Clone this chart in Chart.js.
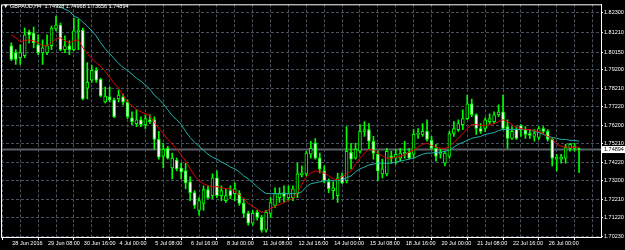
<!DOCTYPE html>
<html><head><meta charset="utf-8">
<script src="https://cdn.jsdelivr.net/npm/chart.js@4.4.0/dist/chart.umd.min.js"></script>
<style>html,body{margin:0;padding:0;background:#000;overflow:hidden}canvas{display:block}</style>
</head><body>
<canvas id="c" width="625" height="250"></canvas>
<script>
const symbolTitle = 'GBPAUD,H4';
const dateLabels = ['28 Jun 2016','29 Jun 08:00','30 Jun 16:00','4 Jul 00:00','5 Jul 08:00','6 Jul 16:00','8 Jul 00:00','11 Jul 08:00','12 Jul 16:00','14 Jul 00:00','15 Jul 08:00','18 Jul 16:00','20 Jul 00:00','21 Jul 08:00','22 Jul 16:00','26 Jul 00:00'];
const priceTicks = [1.82300,1.81210,1.80150,1.79200,1.78210,1.77220,1.76200,1.75210,1.74220,1.73200,1.72210,1.71220,1.70230];

const opens = [1.8049,1.8012,1.7985,1.7996,1.8124,1.8118,1.8054,1.8012,1.8012,1.8049,
1.8140,1.8161,1.8028,1.8049,1.8028,1.8124,1.8134,1.7821,1.7863,1.7916,
1.7868,1.7746,1.7773,1.7757,1.7762,1.7773,1.7746,1.7661,1.7629,1.7650,
1.7624,1.7650,1.7650,1.7544,1.7454,1.7496,1.7390,1.7432,1.7390,1.7374,
1.7315,1.7257,1.7161,1.7199,1.7273,1.7241,1.7337,1.7241,1.7214,1.7268,
1.7252,1.7252,1.7199,1.7145,1.7092,1.7151,1.7124,1.7055,1.7145,1.7188,
1.7230,1.7257,1.7230,1.7230,1.7252,1.7353,1.7358,1.7464,1.7523,1.7443,
1.7374,1.7315,1.7268,1.7241,1.7347,1.7321,1.7475,1.7443,1.7480,1.7587,
1.7597,1.7534,1.7464,1.7358,1.7358,1.7454,1.7443,1.7443,1.7464,1.7475,
1.7464,1.7571,1.7571,1.7587,1.7539,1.7496,1.7464,1.7416,1.7454,1.7576,
1.7597,1.7624,1.7656,1.7736,1.7677,1.7603,1.7603,1.7640,1.7640,1.7677,
1.7693,1.7613,1.7549,1.7597,1.7619,1.7597,1.7576,1.7560,1.7555,1.7603,
1.7587,1.7544,1.7438,1.7438,1.7443,1.7496,1.7496,1.74928];
const highs = [1.8065,1.8028,1.8054,1.8145,1.8134,1.8150,1.8108,1.8081,1.8108,1.8155,
1.8209,1.8172,1.8102,1.8076,1.8198,1.8193,1.8145,1.7959,1.7943,1.7932,
1.7874,1.7826,1.7826,1.7767,1.7810,1.7789,1.7757,1.7693,1.7704,1.7666,
1.7677,1.7677,1.7666,1.7587,1.7523,1.7507,1.7470,1.7443,1.7416,1.7416,
1.7342,1.7268,1.7230,1.7294,1.7294,1.7358,1.7374,1.7294,1.7278,1.7294,
1.7310,1.7268,1.7225,1.7156,1.7161,1.7161,1.7135,1.7161,1.7230,1.7283,
1.7283,1.7294,1.7294,1.7294,1.7416,1.7401,1.7480,1.7534,1.7549,1.7470,
1.7401,1.7331,1.7315,1.7363,1.7363,1.7613,1.7523,1.7523,1.7624,1.7640,
1.7629,1.7560,1.7480,1.7438,1.7496,1.7480,1.7491,1.7496,1.7534,1.7496,
1.7597,1.7603,1.7629,1.7650,1.7560,1.7518,1.7491,1.7480,1.7587,1.7640,
1.7650,1.7704,1.7783,1.7762,1.7682,1.7629,1.7661,1.7682,1.7693,1.7730,
1.7783,1.7650,1.7613,1.7613,1.7624,1.7613,1.7597,1.7597,1.7613,1.7613,
1.7597,1.7549,1.7464,1.7464,1.7518,1.7523,1.7523,1.74968];
const lows = [1.7969,1.7948,1.7948,1.7985,1.8065,1.8038,1.8001,1.7948,1.8001,1.8028,
1.8129,1.8022,1.8012,1.8001,1.8022,1.8028,1.7757,1.7762,1.7852,1.7852,
1.7773,1.7741,1.7746,1.7661,1.7746,1.7730,1.7656,1.7624,1.7613,1.7613,
1.7603,1.7629,1.7491,1.7438,1.7390,1.7438,1.7331,1.7374,1.7331,1.7278,
1.7214,1.7172,1.7135,1.7161,1.7225,1.7225,1.7230,1.7214,1.7204,1.7225,
1.7214,1.7188,1.7124,1.7081,1.7081,1.7108,1.7044,1.7044,1.7124,1.7177,
1.7204,1.7204,1.7214,1.7214,1.7230,1.7342,1.7347,1.7443,1.7438,1.7363,
1.7310,1.7257,1.7225,1.7204,1.7305,1.7310,1.7385,1.7438,1.7470,1.7560,
1.7491,1.7438,1.7321,1.7337,1.7347,1.7416,1.7411,1.7427,1.7443,1.7438,
1.7443,1.7549,1.7560,1.7534,1.7491,1.7427,1.7443,1.7401,1.7443,1.7560,
1.7587,1.7597,1.7650,1.7666,1.7571,1.7576,1.7587,1.7629,1.7629,1.7666,
1.7597,1.7496,1.7544,1.7544,1.7560,1.7549,1.7549,1.7534,1.7544,1.7576,
1.7534,1.7401,1.7374,1.7416,1.7416,1.7480,1.7480,1.73656];
const closes = [1.7975,1.7975,1.8012,1.8108,1.8108,1.8065,1.8012,1.8038,1.8049,1.8145,
1.8161,1.8028,1.8049,1.8028,1.8129,1.8134,1.7762,1.7852,1.7916,1.7863,
1.7778,1.7778,1.7757,1.7666,1.7783,1.7746,1.7666,1.7640,1.7650,1.7624,
1.7656,1.7640,1.7544,1.7448,1.7491,1.7443,1.7443,1.7385,1.7369,1.7310,
1.7257,1.7188,1.7214,1.7273,1.7230,1.7337,1.7241,1.7268,1.7241,1.7241,
1.7278,1.7199,1.7145,1.7092,1.7145,1.7124,1.7055,1.7151,1.7204,1.7252,
1.7252,1.7236,1.7252,1.7278,1.7358,1.7363,1.7470,1.7496,1.7443,1.7385,
1.7321,1.7278,1.7283,1.7337,1.7310,1.7480,1.7438,1.7491,1.7587,1.7597,
1.7534,1.7470,1.7374,1.7385,1.7480,1.7443,1.7464,1.7470,1.7475,1.7443,
1.7571,1.7576,1.7587,1.7544,1.7496,1.7454,1.7475,1.7470,1.7576,1.7603,
1.7629,1.7656,1.7736,1.7677,1.7603,1.7587,1.7650,1.7656,1.7677,1.7693,
1.7603,1.7549,1.7587,1.7549,1.7597,1.7571,1.7565,1.7576,1.7603,1.7587,
1.7544,1.7443,1.7448,1.7448,1.7502,1.7518,1.7507,1.74894];
const maFast = [1.8108,1.8092,1.8071,1.8076,1.8081,1.8076,1.8065,1.8049,1.8049,1.8065,
1.8087,1.8092,1.8076,1.8065,1.8076,1.8081,1.8039,1.8007,1.7980,1.7959,
1.7938,1.7911,1.7879,1.7847,1.7821,1.7783,1.7746,1.7725,1.7704,1.7693,
1.7682,1.7672,1.7635,1.7603,1.7576,1.7544,1.7518,1.7491,1.7459,1.7427,
1.7385,1.7347,1.7321,1.7305,1.7294,1.7289,1.7289,1.7284,1.7278,1.7278,
1.7262,1.7246,1.7225,1.7199,1.7183,1.7167,1.7151,1.7156,1.7172,1.7183,
1.7193,1.7204,1.7215,1.7225,1.7257,1.7300,1.7342,1.7363,1.7374,1.7369,
1.7363,1.7347,1.7331,1.7326,1.7342,1.7358,1.7374,1.7411,1.7443,1.7470,
1.7491,1.7486,1.7470,1.7454,1.7443,1.7443,1.7448,1.7454,1.7459,1.7475,
1.7486,1.7502,1.7518,1.7523,1.7512,1.7502,1.7496,1.7496,1.7502,1.7528,
1.7550,1.7576,1.7603,1.7624,1.7624,1.7619,1.7619,1.7624,1.7629,1.7640,
1.7650,1.7640,1.7624,1.7608,1.7603,1.7597,1.7597,1.7592,1.7587,1.7576,
1.7560,1.7544,1.7518,1.7507,1.7502,1.7502,1.7502,1.7502];
const maSlow = [null,null,null,null,null,null,null,null,null,
1.8289,1.8273,1.8257,1.8246,1.8235,1.8209,1.8198,1.8177,1.8155,1.8129,1.8102,
1.8065,1.8033,1.8007,1.7980,1.7954,1.7932,1.7916,1.7895,1.7874,1.7858,
1.7837,1.7815,1.7783,1.7762,1.7736,1.7704,1.7672,1.7650,1.7624,1.7587,
1.7555,1.7528,1.7507,1.7486,1.7464,1.7448,1.7438,1.7422,1.7411,1.7395,
1.7385,1.7369,1.7347,1.7331,1.7310,1.7289,1.7268,1.7252,1.7252,1.7252,
1.7252,1.7252,1.7252,1.7252,1.7252,1.7262,1.7289,1.7305,1.7310,1.7315,
1.7321,1.7321,1.7321,1.7321,1.7326,1.7337,1.7347,1.7369,1.7385,1.7395,
1.7406,1.7411,1.7416,1.7416,1.7416,1.7416,1.7422,1.7427,1.7432,1.7438,
1.7443,1.7454,1.7464,1.7470,1.7470,1.7475,1.7475,1.7480,1.7486,1.7502,
1.7518,1.7528,1.7539,1.7550,1.7555,1.7560,1.7571,1.7576,1.7581,1.7592,
1.7597,1.7597,1.7597,1.7597,1.7597,1.7597,1.7597,1.7587,1.7581,1.7571,
1.7560,1.7555,1.7550,1.7544,1.7544,1.7539,1.7539,1.7534];

const last = opens.length - 1;
const lastPrice = closes[last];
const titleValues = [opens[last], highs[last], lows[last], closes[last]];

const FONT = {family: "'Liberation Sans', Arial, sans-serif", size: 5.5};
const FONT_CSS = FONT.size + 'px ' + FONT.family;
const GRID = '#48525e';
const LIME = '#00ff00';
const idx = opens.map((_, i) => i);
const bull = closes.map((c, i) => c >= opens[i]);
const gridIdx = [];
for (let v = 0; v <= 128; v += 4) gridIdx.push(v);

const overlay = {
  id: 'overlay',
  beforeDatasetsDraw(chart) {
    const {ctx, chartArea: a, scales: {y}} = chart;
    const py = y.getPixelForValue(lastPrice);
    ctx.save();
    ctx.strokeStyle = '#5a6068';
    ctx.lineWidth = 2;
    ctx.beginPath(); ctx.moveTo(a.left, py); ctx.lineTo(a.right, py); ctx.stroke();
    ctx.restore();
  },
  afterDraw(chart) {
    const {ctx, chartArea: a, scales: {x, y}} = chart;
    ctx.save();
    ctx.strokeStyle = '#ffffff'; ctx.lineWidth = 1;
    ctx.beginPath();
    ctx.moveTo(a.left + 0.5, a.bottom); ctx.lineTo(a.left + 0.5, a.top + 0.5); ctx.lineTo(a.right, a.top + 0.5);
    ctx.stroke();
    ctx.font = FONT_CSS;
    ctx.textBaseline = 'middle'; ctx.textAlign = 'left';
    // date labels on the x scale
    ctx.fillStyle = '#ffffff';
    dateLabels.forEach((lab, k) => {
      const px = x.getPixelForValue(k * 8);
      ctx.fillText(lab, px + 1, a.bottom + 6.5);
    });
    // current price box
    const py = y.getPixelForValue(lastPrice);
    ctx.fillStyle = '#ffffff';
    ctx.fillRect(a.right + 1, py - 3.5, 23, 7);
    ctx.fillStyle = '#000000';
    ctx.fillText(lastPrice.toFixed(5), a.right + 3, py);
    // title
    ctx.fillStyle = '#ffffff';
    ctx.fillText('\u25BC', 3, 6.5);
    ctx.fillText(symbolTitle + '  ' + titleValues.map(v => v.toFixed(5)).join(' '), 10, 6.5);
    ctx.restore();
  }
};

new Chart(document.getElementById('c'), {
  type: 'bar',
  data: {
    datasets: [
      {type: 'line', label: 'MA fast', data: idx.map(i => ({x: i, y: maFast[i]})), borderColor: '#e00000', borderWidth: 1, pointRadius: 0, tension: 0, order: 0},
      {type: 'line', label: 'MA slow', data: idx.map(i => ({x: i, y: maSlow[i]})), borderColor: '#20b2aa', borderWidth: 1, pointRadius: 0, tension: 0, order: 0},
      {label: 'body', data: idx.map(i => ({x: i, y: [opens[i], closes[i]]})), backgroundColor: bull.map(b => b ? '#000000' : '#ffffff'), borderColor: LIME, borderWidth: 1, borderSkipped: false, barThickness: 3, minBarLength: 1, grouped: false, order: 1},
      {label: 'wick', data: idx.map(i => ({x: i, y: [lows[i], highs[i]]})), backgroundColor: LIME, borderWidth: 0, barThickness: 1, grouped: false, order: 2}
    ]
  },
  options: {
    responsive: false, animation: false, devicePixelRatio: 1,
    layout: {padding: {left: 1, top: 1, right: 0, bottom: 0}},
    plugins: {legend: {display: false}, tooltip: {enabled: false}},
    scales: {
      x: {
        type: 'linear', min: -0.27, max: 129.88, bounds: 'data', position: 'bottom',
        afterBuildTicks: s => { s.ticks = gridIdx.map(v => ({value: v})); },
        afterFit: s => { s.height = 13; },
        grid: {color: GRID, lineWidth: 1, tickLength: 3, tickBorderDash: [], tickColor: c => (c.tick && c.tick.value % 8 === 0) ? '#ffffff' : 'rgba(0,0,0,0)'},
        border: {display: true, color: '#ffffff', width: 1, dash: [3, 2]},
        ticks: {display: false}
      },
      y: {
        type: 'linear', position: 'right', min: 1.70178, max: 1.82726, bounds: 'data',
        afterBuildTicks: s => { s.ticks = priceTicks.map(v => ({value: v})); },
        afterFit: s => { s.width = 24; },
        grid: {color: GRID, lineWidth: 1, tickLength: 2, tickBorderDash: [], tickColor: '#ffffff'},
        border: {display: true, color: '#ffffff', width: 1, dash: [3, 2]},
        ticks: {color: '#ffffff', font: FONT, padding: 1, crossAlign: 'near', callback: v => Number(v).toFixed(5)}
      }
    }
  },
  plugins: [overlay]
});
</script>
</body></html>
